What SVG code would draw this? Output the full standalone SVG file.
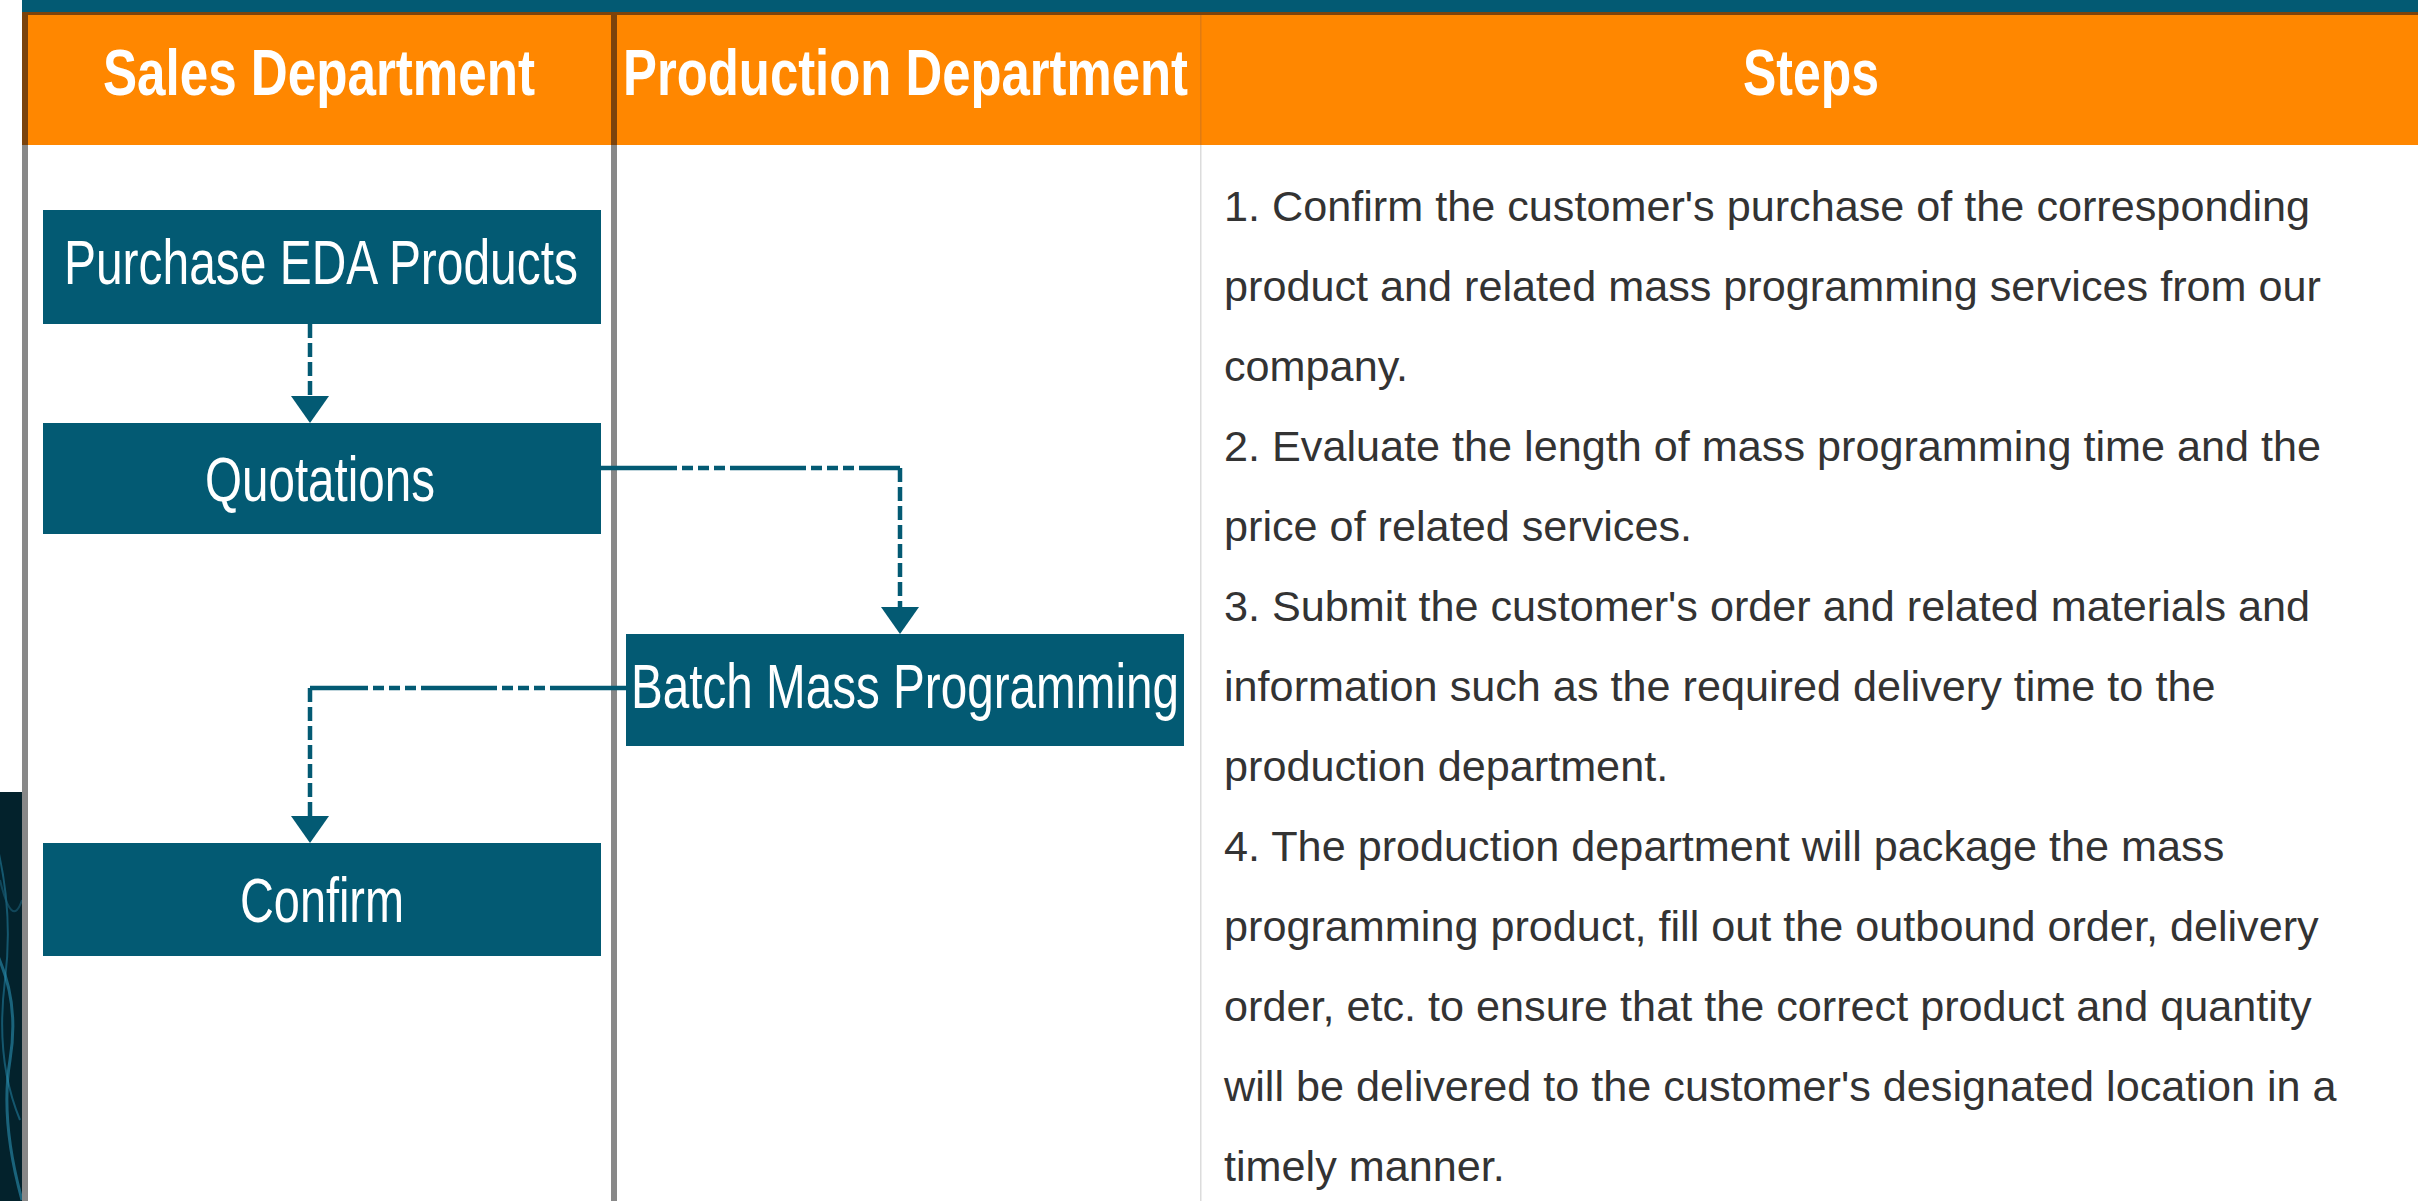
<svg xmlns="http://www.w3.org/2000/svg" width="2418" height="1201" viewBox="0 0 2418 1201">
<style>
.hdr{font-family:"Liberation Sans",Arial,sans-serif;font-weight:bold;font-size:65px;fill:#ffffff}
.box{fill:#035a73}
.lbl{font-family:"Liberation Sans",Arial,sans-serif;font-size:63px;fill:#ffffff}
.step{font-family:"Liberation Sans",Arial,sans-serif;font-size:43.2px;fill:#333333}
.conn{fill:none;stroke:#035a73;stroke-width:4.5}
.h{stroke-dasharray:76 5 11 5 11 5 11 5}
.v{stroke-dasharray:14 5}
</style>
<defs>
<marker id="arr" markerUnits="userSpaceOnUse" markerWidth="27" markerHeight="38" viewBox="0 0 27 38" refX="0" refY="19" orient="auto">
<path d="M0,0 L27,19 L0,38 Z" fill="#035a73"/>
</marker>
<clipPath id="imgclip"><rect x="0" y="792" width="22" height="409"/></clipPath>
</defs>
<rect x="0" y="0" width="2418" height="1201" fill="#ffffff"/>
<g id="background-image" clip-path="url(#imgclip)">
<rect x="0" y="792" width="22" height="409" fill="#03222c"/>
<path d="M-10,820 Q15,900 5,980 T20,1120" fill="none" stroke="#1d6e8a" stroke-width="2" opacity="0.7"/>
<path d="M-5,950 Q20,1000 10,1060 T22,1200" fill="none" stroke="#2a8fb0" stroke-width="3" opacity="0.6"/>
<path d="M0,880 Q12,930 22,900" fill="none" stroke="#1a5f78" stroke-width="2" opacity="0.6"/>
</g>
<g id="table">
<rect x="22" y="0" width="2396" height="12" fill="#035a73"/>
<rect x="22" y="12" width="2396" height="3" fill="#7b430c"/>
<rect x="28" y="15" width="2390" height="130" fill="#ff8700"/>
<rect x="22" y="12" width="6" height="133" fill="#7b430c"/>
<rect x="22" y="145" width="6" height="1056" fill="#888888"/>
<rect x="611" y="15" width="6" height="130" fill="#7b430c"/>
<rect x="611" y="145" width="6" height="1056" fill="#888888"/>
<rect x="1200" y="15" width="1.5" height="130" fill="#e07b12"/>
<rect x="1200" y="145" width="1.5" height="1056" fill="#dcdcdc"/>
<text class="hdr" x="103" y="95" textLength="432" lengthAdjust="spacingAndGlyphs">Sales Department</text>
<text class="hdr" x="623" y="95" textLength="565" lengthAdjust="spacingAndGlyphs">Production Department</text>
<text class="hdr" x="1743" y="95" textLength="136" lengthAdjust="spacingAndGlyphs">Steps</text>
</g>
<g id="connectors">
<g id="c-purchase-quotations">
<path class="conn v" d="M310,324 V396" marker-end="url(#arr)"/>
</g>
<g id="c-quotations-batch">
<path class="conn h" d="M601,468 H900"/>
<path class="conn v" d="M900,468 V607" marker-end="url(#arr)"/>
</g>
<g id="c-batch-confirm">
<path class="conn h" d="M626,688 H310"/>
<path class="conn v" d="M310,688 V816" marker-end="url(#arr)"/>
</g>
</g>
<g id="n-purchase">
<rect class="box" x="43" y="210" width="558" height="114"/>
<text class="lbl" x="64" y="284" textLength="514" lengthAdjust="spacingAndGlyphs">Purchase EDA Products</text>
</g>
<g id="n-quotations">
<rect class="box" x="43" y="423" width="558" height="111"/>
<text class="lbl" x="205" y="501" textLength="230" lengthAdjust="spacingAndGlyphs">Quotations</text>
</g>
<g id="n-batch">
<rect class="box" x="626" y="634" width="558" height="112"/>
<text class="lbl" x="631" y="708" textLength="548" lengthAdjust="spacingAndGlyphs">Batch Mass Programming</text>
</g>
<g id="n-confirm">
<rect class="box" x="43" y="843" width="558" height="113"/>
<text class="lbl" x="240" y="922" textLength="164" lengthAdjust="spacingAndGlyphs">Confirm</text>
</g>
<g id="steps">
<text class="step" x="1224" y="221">1. Confirm the customer's purchase of the corresponding</text>
<text class="step" x="1224" y="301">product and related mass programming services from our</text>
<text class="step" x="1224" y="381">company.</text>
<text class="step" x="1224" y="461">2. Evaluate the length of mass programming time and the</text>
<text class="step" x="1224" y="541">price of related services.</text>
<text class="step" x="1224" y="621">3. Submit the customer's order and related materials and</text>
<text class="step" x="1224" y="701">information such as the required delivery time to the</text>
<text class="step" x="1224" y="781">production department.</text>
<text class="step" x="1224" y="861">4. The production department will package the mass</text>
<text class="step" x="1224" y="941">programming product, fill out the outbound order, delivery</text>
<text class="step" x="1224" y="1021">order, etc. to ensure that the correct product and quantity</text>
<text class="step" x="1224" y="1101">will be delivered to the customer's designated location in a</text>
<text class="step" x="1224" y="1181">timely manner.</text>
</g>
</svg>
